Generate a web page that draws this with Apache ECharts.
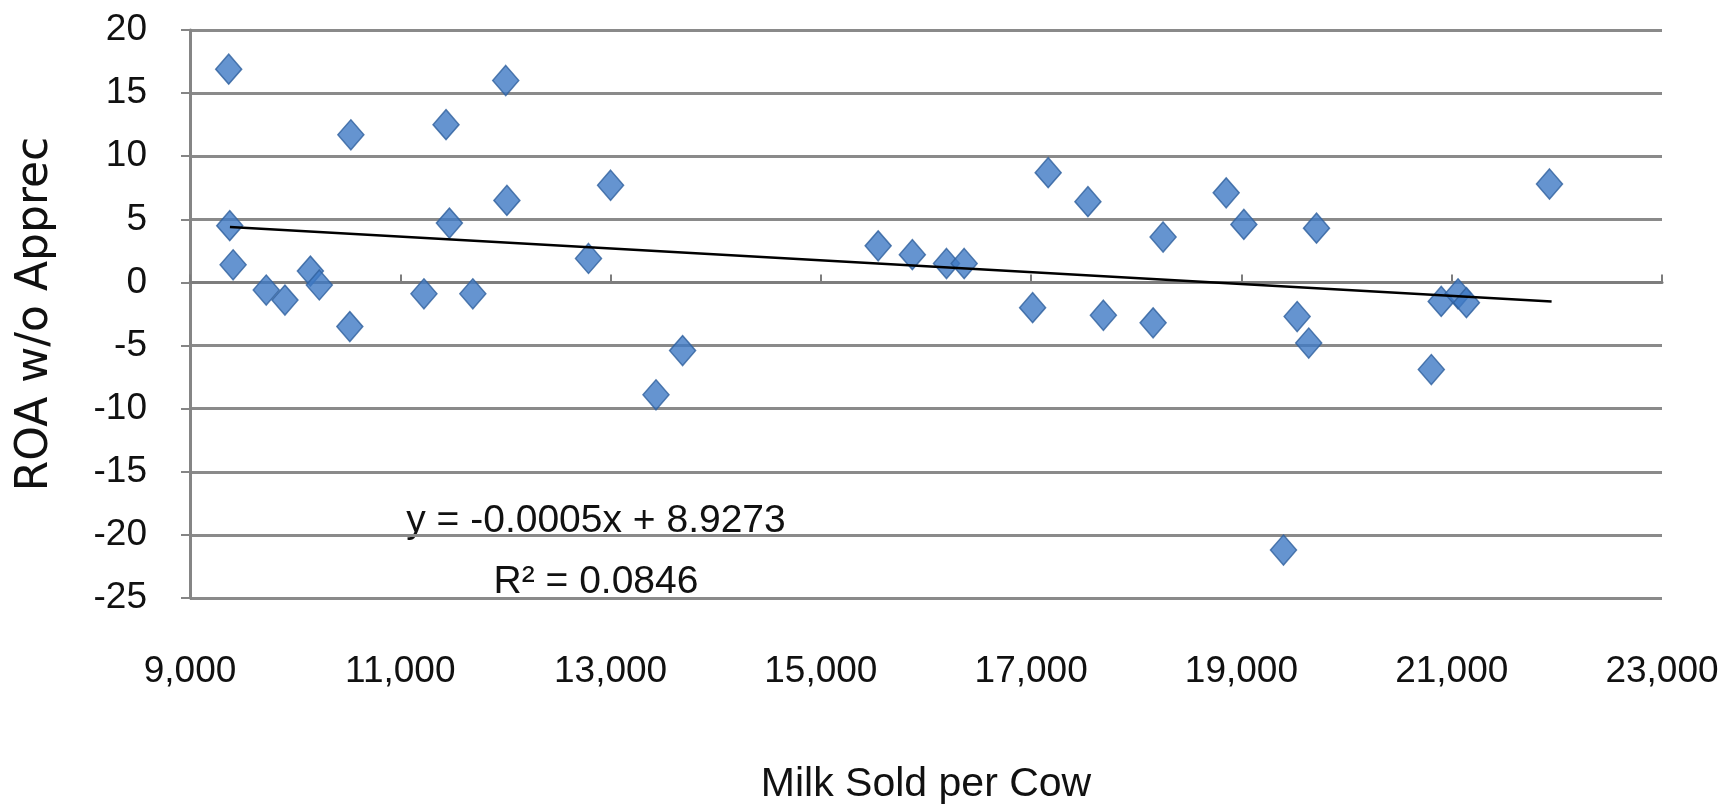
<!DOCTYPE html>
<html>
<head>
<meta charset="utf-8">
<script src="https://cdn.jsdelivr.net/npm/echarts@6/dist/echarts.min.js"></script>
<style>
  html, body { margin: 0; padding: 0; background: #fff; }
  #chartRoa { width: 1732px; height: 810px; }
</style>
</head>
<body>
<div id="chartRoa"></div>
<script>
// milk sold per cow (x) and ROA w/o appreciation (y)
const milkSold = [
  9368, 9378, 9410, 9725, 9903, 10145, 10230, 10520, 10530, 11225,
  11435, 11467, 11690, 12003, 12014, 12790, 13000, 13432, 13685, 15545,
  15870, 16195, 16363, 17014, 17162, 17540, 17687, 18160, 18255, 18855,
  19023, 19400, 19530, 19640, 19714, 20806, 20900, 21060, 21140, 21930
];
const roa = [
  16.9, 4.5, 1.4, -0.6, -1.4, 0.9, -0.2, -3.5, 11.7, -0.9,
  12.5, 4.7, -0.9, 16.0, 6.5, 1.9, 7.7, -8.9, -5.4, 2.9,
  2.2, 1.5, 1.5, -2.0, 8.7, 6.4, -2.6, -3.2, 3.6, 7.1,
  4.6, -21.2, -2.7, -4.8, 4.3, -6.9, -1.5, -0.9, -1.6, 7.8
];
// linear trend line end points
const trendX = [9380, 21950];
const trendY = [4.4, -1.5];
const equationText = "y = -0.0005x + 8.9273";
const r2Text = "R\u00b2 = 0.0846";

const sans = "'Liberation Sans', Arial, sans-serif";

const myChart = echarts.init(document.getElementById("chartRoa"));
myChart.setOption({
  animation: false,
  backgroundColor: "#ffffff",
  grid: {
    left: 190,
    right: 70,
    top: 30,
    bottom: 208,
  },
  xAxis: [
    {
      type: "value",
      min: 9000,
      max: 23000,
      interval: 2000,
      name: "Milk Sold per Cow",
      nameLocation: "middle",
      nameGap: 166,
      nameTextStyle: { fontFamily: sans, fontSize: 41, color: "#111" },
      axisLine: { show: false, onZero: false },
      axisTick: { show: false },
      splitLine: { show: false },
      axisLabel: {
        margin: 55,
        fontFamily: sans,
        fontSize: 37,
        color: "#111",
        formatter: (v) => v.toLocaleString("en-US"),
      },
    },
    {
      // 0 线，带刻度
      type: "value",
      min: 9000,
      max: 23000,
      interval: 2000,
      axisLine: { show: true, onZero: true, lineStyle: { color: "#7d7d7d", width: 3 } },
      axisTick: { show: true, length: 8, lineStyle: { color: "#7d7d7d", width: 2 } },
      axisLabel: { show: false },
      splitLine: { show: false },
    },
  ],
  yAxis: {
    type: "value",
    min: -25,
    max: 20,
    interval: 5,
    name: "ROA w/o Apprec",
    nameLocation: "middle",
    nameGap: 132,
    nameRotate: 90,
    nameTextStyle: { fontFamily: "'DejaVu Sans', sans-serif", fontSize: 44, color: "#111" },
    axisLine: { show: true, lineStyle: { color: "#858585", width: 3 } },
    axisTick: { show: true, length: 9, lineStyle: { color: "#858585", width: 2 } },
    axisLabel: { margin: 43, fontFamily: sans, fontSize: 37, color: "#111" },
    splitLine: { show: true, lineStyle: { color: "#8a8a8a", width: 3 } },
  },
  series: [
    {
      name: "ROA",
      type: "scatter",
      symbol: "diamond",
      symbolSize: [26, 30],
      itemStyle: { color: "#3f79c4", borderColor: "#30609e", borderWidth: 1.5 },
      data: milkSold.map((x, i) => [x, roa[i]]),
      z: 3,
    },
    {
      name: "Linear",
      type: "line",
      symbol: "none",
      lineStyle: { color: "#000", width: 2.5 },
      data: trendX.map((x, i) => [x, trendY[i]]),
      z: 4,
    },
  ],
  graphic: [
    {
      type: "text",
      x: 596,
      y: 521,
      style: {
        text: equationText,
        fontFamily: sans,
        fontSize: 39,
        fill: "#111",
        align: "center",
        verticalAlign: "middle",
      },
    },
    {
      type: "text",
      x: 596,
      y: 582,
      style: {
        text: r2Text,
        fontFamily: sans,
        fontSize: 39,
        fill: "#111",
        align: "center",
        verticalAlign: "middle",
      },
    },
  ],
});
</script>
</body>
</html>
